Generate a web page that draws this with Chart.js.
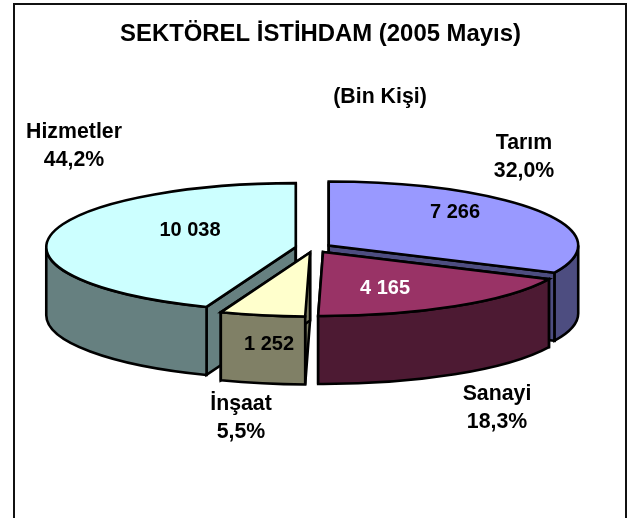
<!DOCTYPE html>
<html lang="tr">
<head>
<meta charset="utf-8">
<title>Sektörel İstihdam</title>
<style>
html,body{margin:0;padding:0;background:#fff;overflow:hidden}
canvas{display:block}
</style>
<script src="https://cdn.jsdelivr.net/npm/chart.js@4"></script>
</head>
<body>
<canvas id="chart" width="629" height="518"></canvas>
<script>
const categories = ['Tarım', 'Sanayi', 'İnşaat', 'Hizmetler'];
const values = [7266, 4165, 1252, 10038];
const valueLabels = ['7 266', '4 165', '1 252', '10 038'];
const shareLabels = ['32,0%', '18,3%', '5,5%', '44,2%'];
const chartTitle = 'SEKTÖREL İSTİHDAM (2005 Mayıs)';
const unitLabel = '(Bin Kişi)';

const topColors = ['#9999FF', '#993366', '#FFFFCC', '#CCFFFF'];
const wallColors = ['#4D4D80', '#4D1A33', '#808066', '#668080'];
const valueColors = ['#000000', '#FFFFFF', '#000000', '#000000'];

const valueAnchors = [[455, 212], [385, 288], [269, 344], [190, 230]];
const nameAnchors = [[524, 143], [497, 394], [241, 404], [74, 132]];
const lineStep = 28;

const pie3d = { cx: 313.5, cy: 248, rx: 249.5, ry: 64, depth: 68 };
const fontFamily = '"Liberation Sans", Arial, sans-serif';
const valueFont = 'bold 20px ' + fontFamily;
const labelFont = 'bold 21.3px ' + fontFamily;

const framePlugin = {
  id: 'frame',
  beforeDraw(chart) {
    const c = chart.ctx;
    c.save();
    c.fillStyle = '#fff';
    c.fillRect(0, 0, chart.width, chart.height);
    c.strokeStyle = '#111';
    c.lineWidth = 2;
    c.strokeRect(14, 4, 612, 530);
    c.restore();
  }
};

const pie3dPlugin = {
  id: 'pie3d',
  beforeDatasetsDraw(chart) {
    const c = chart.ctx;
    const arcs = chart.getDatasetMeta(0).data;
    const { cx, cy, rx, ry, depth } = pie3d;
    const slices = arcs.map((arc, i) => {
      const a = arc.startAngle, b = arc.endAngle, mid = (a + b) / 2;
      const k = arc.options.offset / arc.outerRadius;
      return {
        i, a, b, mid,
        x: cx + Math.cos(mid) * k * rx,
        y: cy + Math.sin(mid) * k * ry
      };
    }).sort((p, q) => Math.sin(p.mid) - Math.sin(q.mid));

    const paint = (fill) => {
      c.fillStyle = fill;
      c.fill();
      c.strokeStyle = '#000';
      c.lineWidth = 2.6;
      c.lineJoin = 'miter';
      c.stroke();
    };
    const cutFace = (s, t) => {
      const px = s.x + rx * Math.cos(t), py = s.y + ry * Math.sin(t);
      c.beginPath();
      c.moveTo(s.x, s.y);
      c.lineTo(px, py);
      c.lineTo(px, py + depth);
      c.lineTo(s.x, s.y + depth);
      c.closePath();
      paint(wallColors[s.i]);
    };
    const outerWall = (s) => {
      for (const turn of [-2 * Math.PI, 0, 2 * Math.PI]) {
        const from = Math.max(s.a, turn), to = Math.min(s.b, turn + Math.PI);
        if (to <= from) continue;
        c.beginPath();
        c.ellipse(s.x, s.y, rx, ry, 0, from, to);
        c.ellipse(s.x, s.y + depth, rx, ry, 0, to, from, true);
        c.closePath();
        paint(wallColors[s.i]);
      }
    };

    for (const s of slices) {
      cutFace(s, s.a);
      cutFace(s, s.b);
      outerWall(s);
      c.beginPath();
      c.moveTo(s.x, s.y);
      c.ellipse(s.x, s.y, rx, ry, 0, s.a, s.b);
      c.closePath();
      paint(topColors[s.i]);
    }

    c.textAlign = 'center';
    c.textBaseline = 'middle';
    c.font = valueFont;
    valueLabels.forEach((t, i) => {
      c.fillStyle = valueColors[i];
      c.fillText(t, valueAnchors[i][0], valueAnchors[i][1]);
    });
    c.font = labelFont;
    c.fillStyle = '#000';
    categories.forEach((t, i) => {
      c.fillText(t, nameAnchors[i][0], nameAnchors[i][1]);
      c.fillText(shareLabels[i], nameAnchors[i][0], nameAnchors[i][1] + lineStep);
    });
    c.fillText(unitLabel, 380, 97);
    return false;
  }
};

new Chart(document.getElementById('chart'), {
  type: 'pie',
  data: {
    labels: categories,
    datasets: [{
      data: values,
      backgroundColor: topColors,
      borderColor: '#000',
      borderWidth: 2,
      offset: 16.3
    }]
  },
  options: {
    responsive: false,
    animation: false,
    layout: { padding: { left: 12 } },
    plugins: {
      legend: { display: false },
      tooltip: { enabled: false },
      title: {
        display: true,
        text: chartTitle,
        color: '#000',
        padding: { top: 20, bottom: 0 },
        font: { family: fontFamily, size: 23.9, weight: 'bold' }
      }
    }
  },
  plugins: [framePlugin, pie3dPlugin]
});
</script>
</body>
</html>
